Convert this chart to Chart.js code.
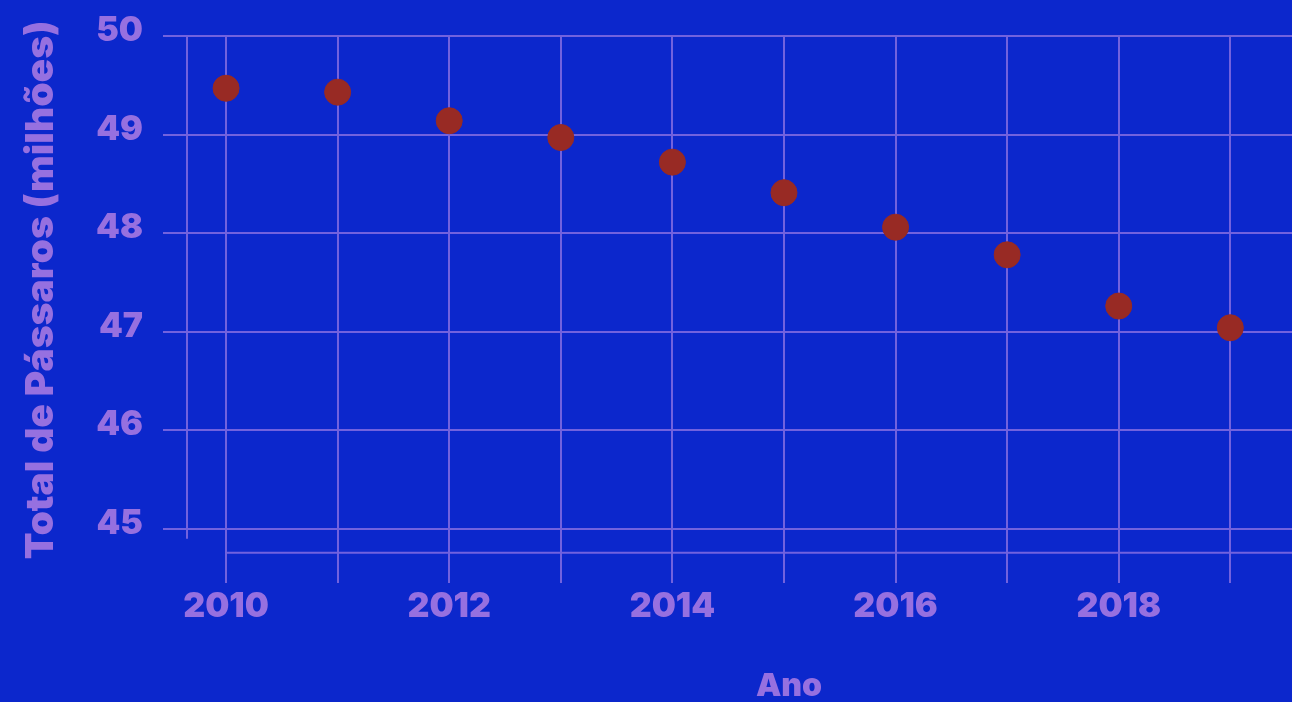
<!DOCTYPE html>
<html>
<head>
<meta charset="utf-8">
<script src="https://cdn.jsdelivr.net/npm/chart.js@4.4.0/dist/chart.umd.min.js"></script>
<style>
    html, body { margin: 0; padding: 0; overflow: hidden; background: #0c27cc; }
    #wrap { width: 1420px; height: 702px; }
</style>
</head>
<body>
<div id="wrap"><canvas id="chart" width="1420" height="702"></canvas></div>
<script>
// ── Data ─────────────────────────────────────────────────────────────────────

const years = [2010, 2011, 2012, 2013, 2014, 2015, 2016, 2017, 2018, 2019];
const birds = [49.47, 49.43, 49.14, 48.97, 48.72, 48.41, 48.06, 47.78, 47.26, 47.04];
const yTicks = [45, 46, 47, 48, 49, 50];

const TEXT = '#9670e0';
const GRID = '#7262de';
const DOT = '#982a24';

// offset spines like the original (y spine stops short, x spine sits lower)
const spinesPlugin = {
    id: 'spines',
    beforeDatasetsDraw(chart) {
        const { ctx, chartArea, scales: { x, y } } = chart;
        ctx.save();
        ctx.strokeStyle = GRID;
        ctx.lineWidth = 2;
        ctx.beginPath();
        ctx.moveTo(chartArea.left, y.getPixelForValue(50));
        ctx.lineTo(chartArea.left, y.getPixelForValue(44.9));
        ctx.moveTo(x.getPixelForValue(years[0]), y.getPixelForValue(44.757));
        ctx.lineTo(chartArea.right, y.getPixelForValue(44.757));
        ctx.stroke();
        ctx.restore();
    },
};

const font = (size) => ({ family: 'Inter', weight: '900', size });

new Chart(document.getElementById('chart'), {
    type: 'scatter',
    data: {
        datasets: [{
            data: years.map((yr, i) => ({ x: yr, y: birds[i] })),
            backgroundColor: DOT,
            borderColor: DOT,
            pointRadius: 13,
            pointHoverRadius: 13,
        }],
    },
    options: {
        responsive: false,
        animation: false,
        devicePixelRatio: 1,
        layout: { padding: { top: 36, right: 29, bottom: 0, left: 0 } },
        plugins: { legend: { display: false }, tooltip: { enabled: false } },
        scales: {
            x: {
                type: 'linear',
                min: 2009.65,
                max: 2020.44,
                afterFit: scale => {
                    scale.height = 119;
                    scale.paddingLeft = 0;
                    scale.paddingRight = 0;
                },
                border: { display: false },
                grid: { color: GRID, lineWidth: 2, drawTicks: false },
                ticks: {
                    stepSize: 1,
                    includeBounds: false,
                    padding: 3,
                    color: TEXT,
                    font: font(34),
                    callback: v => (v % 2 === 0 ? String(v) : ''),
                },
                title: {
                    display: true,
                    text: 'Ano',
                    color: TEXT,
                    font: { ...font(32), lineHeight: 1 },
                    padding: 0,
                },
            },
            y: {
                min: 44.45,
                max: 50,
                afterFit: scale => {
                    scale.width = 187;
                    scale.paddingTop = 0;
                    scale.paddingBottom = 0;
                },
                afterBuildTicks: scale => { scale.ticks = yTicks.map(v => ({ value: v })); },
                border: { display: false },
                grid: { color: GRID, lineWidth: 2, tickLength: 24 },
                ticks: {
                    padding: 20,
                    labelOffset: -5,
                    color: TEXT,
                    font: font(34),
                },
                title: {
                    display: true,
                    text: '\u2003Total de Pássaros (milhões)',
                    color: TEXT,
                    font: { ...font(39), lineHeight: 1.2 },
                    padding: { top: 18, bottom: 0 },
                },
            },
        },
    },
    plugins: [spinesPlugin],
});
</script>
</body>
</html>
